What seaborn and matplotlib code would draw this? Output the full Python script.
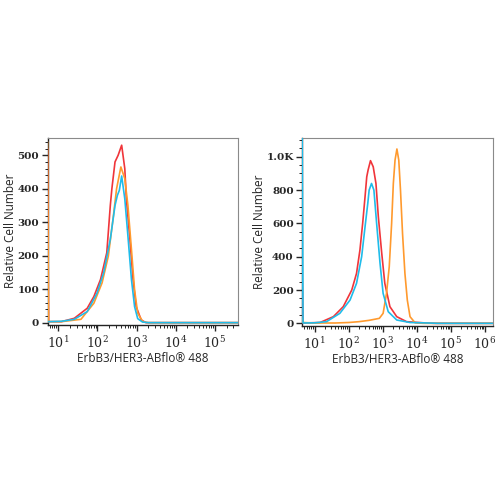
import numpy as np
import pandas as pd
import matplotlib
matplotlib.use("Agg")
import matplotlib.pyplot as plt
import matplotlib.ticker as mticker
import seaborn as sns

# Left panel: x positions as log10(intensity), y = cell counts
left_red_x = [0.726, 0.75, 1.08, 1.41, 1.74, 1.91, 2.08, 2.24, 2.33, 2.37, 2.45, 2.53, 2.62,
              2.70, 2.74, 2.83, 2.91, 2.99, 3.12, 3.24, 3.5, 5.6]
left_red_y = [520, 3, 3, 13, 43, 78, 129, 209, 350, 400, 480, 500, 530,
              460, 370, 250, 130, 48, 8, 0, 0, 0]
left_orange_x = [0.726, 0.75, 1.08, 1.58, 1.91, 2.12, 2.28, 2.41, 2.49, 2.60,
                 2.70, 2.78, 2.87, 2.95, 3.03, 3.16, 3.3, 5.6]
left_orange_y = [540, 3, 3, 10, 58, 119, 199, 320, 400, 465,
                 430, 350, 219, 98, 28, 3, 0, 0]
left_cyan_x = [0.726, 0.75, 1.08, 1.41, 1.74, 1.99, 2.16, 2.33, 2.45, 2.51, 2.56, 2.62,
               2.70, 2.78, 2.87, 2.95, 3.03, 3.15, 3.3, 5.6]
left_cyan_y = [3, 3, 4, 10, 33, 88, 149, 249, 350, 380, 395, 438,
               370, 259, 129, 48, 12, 2, 0, 0]

# Right panel
right_red_x = [0.632, 0.66, 1.16, 1.55, 1.84, 2.09, 2.23, 2.33, 2.41, 2.48, 2.53, 2.57, 2.64,
               2.72, 2.80, 2.87, 2.97, 3.06, 3.21, 3.41, 3.70, 4.2, 4.5, 6.3]
right_red_y = [300, 2, 5, 40, 100, 200, 300, 440, 600, 760, 880, 921, 977,
               940, 840, 640, 420, 240, 100, 40, 10, 3, 0, 0]
right_orange_x = [0.632, 0.66, 1.0, 1.6, 2.0, 2.3, 2.6, 2.9, 3.01, 3.11, 3.19, 3.26, 3.31, 3.36,
                  3.415, 3.47, 3.52, 3.58, 3.65, 3.72, 3.80, 3.95, 4.2, 6.3]
right_orange_y = [30, 5, 2, 2, 5, 10, 18, 30, 60, 180, 340, 600, 840, 980,
                  1047, 980, 800, 540, 300, 140, 40, 3, 0, 0]
right_cyan_x = [0.632, 0.66, 1.0, 1.35, 1.74, 2.04, 2.23, 2.38, 2.48, 2.56, 2.60, 2.67,
                2.74, 2.82, 2.92, 3.01, 3.16, 3.41, 3.8, 4.5, 4.6, 6.3]
right_cyan_y = [1200, 2, 3, 10, 60, 140, 240, 400, 580, 720, 800, 840,
                800, 600, 360, 180, 70, 20, 5, 1, 0, 0]

colors = {"red": "#f0353a", "orange": "#ff9a2e", "cyan": "#1fbcea"}

sns.set_style("ticks")
plt.rcParams["font.family"] = ["Open Sans", "DejaVu Sans"]
plt.rcParams["mathtext.fontset"] = "dejavuserif"

fig = plt.figure(figsize=(5, 5), dpi=100)
ax1 = fig.add_axes([0.095, 0.35, 0.380, 0.375])
ax2 = fig.add_axes([0.604, 0.348, 0.381, 0.376])


def draw(ax, series, xlim, ylim, ymajor, yminor, xmax_dec, kfmt=False):
    for xs, ys, c in series:
        df = pd.DataFrame({"x": np.power(10.0, xs), "y": ys})
        sns.lineplot(data=df, x="x", y="y", ax=ax, color=colors[c], lw=1.2,
                     sort=False, estimator=None, zorder=3)
    ax.set_xscale("log")
    ax.set_xlim(10 ** xlim[0], 10 ** xlim[1])
    ax.set_ylim(*ylim)
    ax.set_xticks([10.0 ** k for k in range(1, xmax_dec + 1)])
    ax.xaxis.set_minor_locator(mticker.LogLocator(base=10, subs=np.arange(2, 10), numticks=20))
    ax.xaxis.set_minor_formatter(mticker.NullFormatter())
    ax.xaxis.set_major_formatter(mticker.FuncFormatter(lambda v, p: r"$10^{%d}$" % round(np.log10(v))))
    ax.yaxis.set_major_locator(mticker.MultipleLocator(ymajor))
    ax.yaxis.set_minor_locator(mticker.MultipleLocator(yminor))
    if kfmt:
        ax.yaxis.set_major_formatter(mticker.FuncFormatter(
            lambda v, p: "%.1fK" % (v / 1000) if v >= 1000 else "%d" % v))
    ax.set_ylabel("Relative Cell Number", fontsize=8.5, labelpad=0)
    ax.set_xlabel("ErbB3/HER3-ABflo\u00ae 488", fontsize=8.5, labelpad=1)
    ax.tick_params(axis="both", which="major", length=4, width=1, labelsize=7.5, pad=2)
    ax.tick_params(axis="x", which="major", labelsize=9, pad=3)
    ax.tick_params(axis="both", which="minor", length=2, width=0.7)
    for lab in ax.get_yticklabels():
        lab.set_family("DejaVu Serif")
        lab.set_fontweight("bold")
    for s in ["top", "right"]:
        ax.spines[s].set_color("#8a8a8a")
        ax.spines[s].set_linewidth(0.8)
    for s in ["left", "bottom"]:
        ax.spines[s].set_color("#222222")
        ax.spines[s].set_linewidth(1.0)


draw(ax1, [(left_red_x, left_red_y, "red"),
           (left_orange_x, left_orange_y, "orange"),
           (left_cyan_x, left_cyan_y, "cyan")],
     (0.725, 5.58), (-7, 553), 100, 20, 5)
draw(ax2, [(right_red_x, right_red_y, "red"),
           (right_orange_x, right_orange_y, "orange"),
           (right_cyan_x, right_cyan_y, "cyan")],
     (0.63, 6.22), (-16, 1113), 200, 50, 6, kfmt=True)

fig.savefig("out.png", dpi=100)
